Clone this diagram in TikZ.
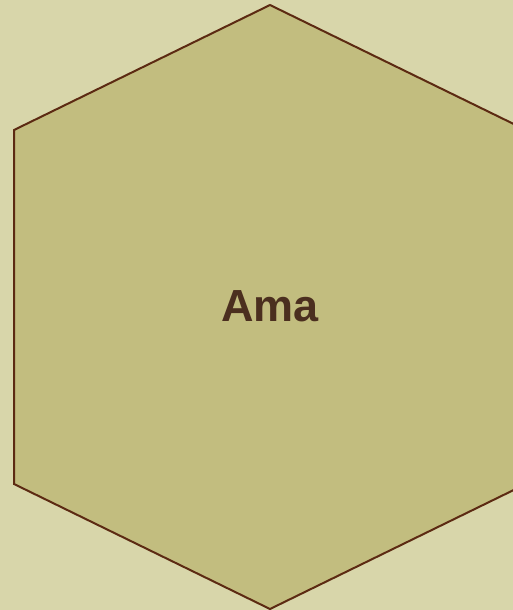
\documentclass[tikz,border=0pt]{standalone}
\usepackage{fontspec}
\setmainfont{Liberation Sans}
\definecolor{bgc}{HTML}{D8D6AA}
\definecolor{hexfill}{HTML}{C2BD7F}
\definecolor{hexline}{HTML}{5C2A12}
\definecolor{txt}{HTML}{4B2F1F}
\begin{document}
\begin{tikzpicture}[x=1pt,y=-1pt,
  hexstyle/.style={fill=hexfill,draw=hexline,line width=2pt,line join=miter},
  lbl/.style={text=txt,font=\fontsize{45}{54}\selectfont\bfseries}]
\fill[bgc] (0,0) rectangle (513,610);
\useasboundingbox (0,0) rectangle (513,610);
\begin{scope}
\clip (0,0) rectangle (513,610);
\draw[hexstyle] (270,5) -- (14,130) -- (14,484) -- (270,609) -- (526,484) -- (526,130) -- cycle;
\end{scope}
\node[lbl] (t) at (270,306) {Ama};
\end{tikzpicture}
\end{document}
